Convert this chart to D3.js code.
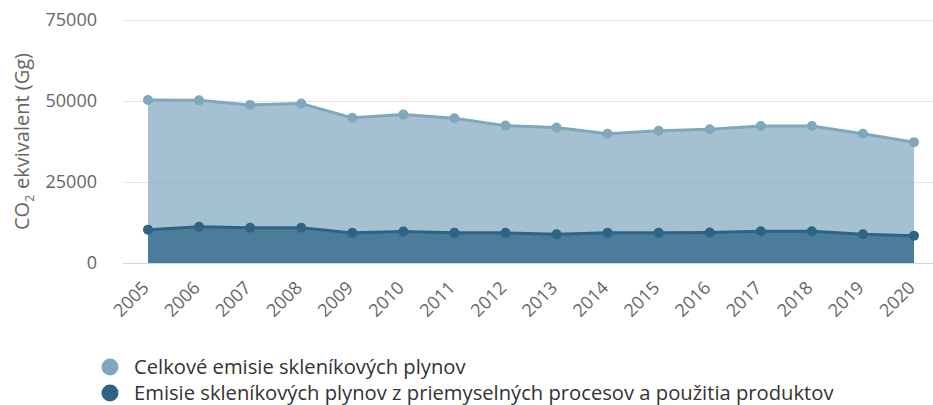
<!DOCTYPE html>
<html>
<head>
<meta charset="utf-8">
<script src="https://cdn.jsdelivr.net/npm/d3@7"></script>
<style>
  body { margin: 0; background: #fff; }
  text { font-family: "Open Sans", sans-serif; }
</style>
</head>
<body>
<div id="container"></div>
<script>
// values in Gg CO2 ekv.
var years = ['2005','2006','2007','2008','2009','2010','2011','2012','2013','2014','2015','2016','2017','2018','2019','2020'];
var total = [50300, 50200, 48800, 49200, 44800, 45800, 44700, 42400, 41800, 39900, 40800, 41300, 42300, 42300, 39900, 37300];
var industry = [10300, 11200, 10900, 10900, 9300, 9700, 9300, 9300, 8900, 9300, 9300, 9400, 9800, 9800, 8900, 8400];
var yTicks = [0, 25000, 50000, 75000];
var seriesNames = ['Celkové emisie skleníkových plynov', 'Emisie skleníkových plynov z priemyselných procesov a použitia produktov'];
var lineColors = ['#7fa7bd', '#2d6485'];

var W = 933, H = 405;
var plotL = 123, plotR = 933, plotT = 20, plotB = 263;

var svg = d3.select('#container').append('svg')
  .attr('width', W).attr('height', H);

var x = d3.scalePoint().domain(years).range([148, 914]);
var y = d3.scaleLinear().domain([0, 75000]).range([plotB, plotT]);

// grid
svg.append('g').selectAll('line')
  .data(yTicks.filter(function(d) { return d > 0; }))
  .enter().append('line')
  .attr('x1', plotL).attr('x2', plotR)
  .attr('y1', function(d) { return Math.round(y(d)) + 0.5; })
  .attr('y2', function(d) { return Math.round(y(d)) + 0.5; })
  .style('stroke', '#e6e6e6').style('stroke-width', 1);

// y labels
svg.append('g').selectAll('text')
  .data(yTicks).enter().append('text')
  .attr('x', 97).attr('y', function(d) { return y(d) + 6; })
  .attr('text-anchor', 'end')
  .style('font-size', '18px').style('fill', '#666')
  .text(function(d) { return d; });

// axis title
var title = svg.append('text')
  .attr('transform', 'translate(29,' + ((plotT + plotB) / 2) + ') rotate(-90)')
  .attr('text-anchor', 'middle')
  .style('font-size', '20px').style('fill', '#666');
title.append('tspan').text('CO');
title.append('tspan').attr('dy', 5).style('font-size', '12px').text('2');
title.append('tspan').attr('dy', -5).attr('dx', 6).text('ekvivalent (Gg)');

var series = [total, industry];
var fills = [0.7, 0.75];

series.forEach(function(vals, s) {
  var area = d3.area()
    .x(function(d, i) { return x(years[i]); })
    .y0(y(0)).y1(function(d) { return y(d); });
  var line = d3.line()
    .x(function(d, i) { return x(years[i]); })
    .y(function(d) { return y(d); });
  svg.append('path').datum(vals).attr('d', area)
    .style('fill', lineColors[s]).style('fill-opacity', fills[s]);
  svg.append('path').datum(vals).attr('d', line)
    .style('fill', 'none').style('stroke', lineColors[s]).style('stroke-width', 3);
  svg.append('g').selectAll('circle').data(vals).enter().append('circle')
    .attr('cx', function(d, i) { return x(years[i]); })
    .attr('cy', function(d) { return y(d); })
    .attr('r', 5).style('fill', lineColors[s]);
});

// x axis line
svg.append('line')
  .attr('x1', plotL).attr('x2', plotR)
  .attr('y1', plotB + 0.5).attr('y2', plotB + 0.5)
  .style('stroke', '#ccd6eb').style('stroke-width', 1);

// x labels
svg.append('g').selectAll('text')
  .data(years).enter().append('text')
  .attr('transform', function(d) { return 'translate(' + (x(d) + 2) + ',' + 289 + ') rotate(-45)'; })
  .attr('text-anchor', 'end')
  .style('font-size', '18px').style('fill', '#666')
  .text(function(d) { return d; });

// legend
var leg = svg.append('g').selectAll('g')
  .data(seriesNames).enter().append('g')
  .attr('transform', function(d, i) { return 'translate(110,' + (367 + i * 26) + ')'; });
leg.append('circle').attr('r', 8.5).style('fill', function(d, i) { return lineColors[i]; });
leg.append('text').attr('x', 24).attr('y', 7)
  .style('font-size', '20.2px').style('fill', '#333')
  .text(function(d) { return d; });
</script>
</body>
</html>
